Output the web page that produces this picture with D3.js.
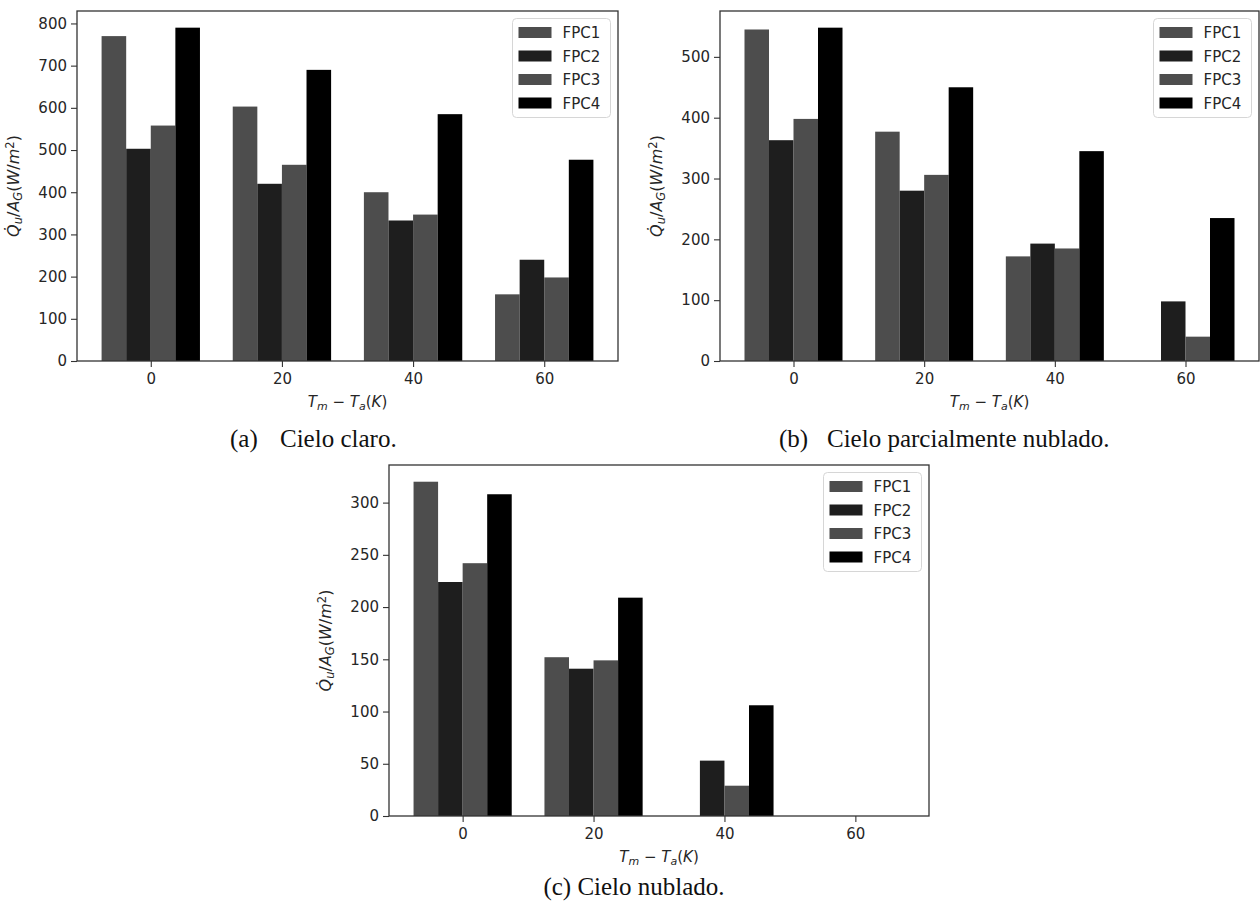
<!DOCTYPE html>
<html>
<head>
<meta charset="utf-8">
<script src="https://cdn.jsdelivr.net/npm/d3@7/dist/d3.min.js"></script>
<style>
  html, body { margin: 0; padding: 0; background: #fff; }
  svg { display: block; }
  text { font-family: "DejaVu Sans", sans-serif; fill: #262626; }
  .cap { font-family: "Liberation Serif", "Times New Roman", serif; fill: #111; }
</style>
</head>
<body>
<svg id="chart" width="1260" height="907"></svg>
<script>
// ---- data ----
const categories = [0, 20, 40, 60];
const seriesNames = ["FPC1", "FPC2", "FPC3", "FPC4"];
const seriesColors = ["#4d4d4d", "#1e1e1e", "#4d4d4d", "#000000"];

// (a) Cielo claro
const clearFPC1 = [770, 603, 400, 158];
const clearFPC2 = [503, 420, 333, 240];
const clearFPC3 = [558, 465, 347, 198];
const clearFPC4 = [790, 690, 585, 477];
// (b) Cielo parcialmente nublado
const partialFPC1 = [545, 377, 172, 0];
const partialFPC2 = [363, 280, 193, 98];
const partialFPC3 = [398, 306, 185, 40];
const partialFPC4 = [548, 450, 345, 235];
// (c) Cielo nublado
const cloudyFPC1 = [320, 152, 0, 0];
const cloudyFPC2 = [224, 141, 53, 0];
const cloudyFPC3 = [242, 149, 29, 0];
const cloudyFPC4 = [308, 209, 106, 0];

const yTicksA = [0, 100, 200, 300, 400, 500, 600, 700, 800];
const yTicksB = [0, 100, 200, 300, 400, 500];
const yTicksC = [0, 50, 100, 150, 200, 250, 300];
const xTickLabels = ["0", "20", "40", "60"];

const captionA = ["(a)", "Cielo claro."];
const captionB = ["(b)", "Cielo parcialmente nublado."];
const captionC = "(c) Cielo nublado.";

// ---- drawing ----
const svg = d3.select("#chart");
const barW = 3.75;
const FS = "15px", FSS = "11px";

function drawPanel(box, seriesData, yTicks) {
  const g = svg.append("g");
  const maxV = d3.max(seriesData.flat());
  const span = categories[3] - categories[0] + 4 * barW;
  const x = d3.scaleLinear()
    .domain([categories[0] - 2 * barW - 0.05 * span, categories[3] + 2 * barW + 0.05 * span])
    .range([box.x0, box.x1]);
  const y = d3.scaleLinear().domain([0, maxV * 1.05]).range([box.y1, box.y0]);

  // bars
  seriesData.forEach((vals, si) => {
    g.append("g").selectAll("rect")
      .data(vals.map((v, ci) => ({ v, c: categories[ci] })))
      .join("rect")
      .attr("x", d => x(d.c + (si - 2) * barW))
      .attr("width", d => x(d.c + (si - 1) * barW) - x(d.c + (si - 2) * barW))
      .attr("y", d => y(d.v))
      .attr("height", d => y(0) - y(d.v))
      .attr("fill", seriesColors[si]);
  });

  // axes
  const yAxis = d3.axisLeft(y).tickValues(yTicks).tickSize(6).tickPadding(4).tickSizeOuter(0);
  const xAxis = d3.axisBottom(x).tickValues(categories).tickFormat((d, i) => xTickLabels[i])
    .tickSize(6).tickPadding(6).tickSizeOuter(0);
  const ya = g.append("g").attr("transform", `translate(${box.x0},0)`).call(yAxis);
  const xa = g.append("g").attr("transform", `translate(0,${box.y1})`).call(xAxis);
  [ya, xa].forEach(a => {
    a.select(".domain").remove();
    a.selectAll(".tick line").attr("stroke", "#333").attr("stroke-width", 1.1);
    a.selectAll(".tick text").style("font-size", FS).attr("fill", "#262626");
  });

  // frame
  g.append("rect")
    .attr("x", box.x0).attr("y", box.y0)
    .attr("width", box.x1 - box.x0).attr("height", box.y1 - box.y0)
    .attr("fill", "none").attr("stroke", "#333").attr("stroke-width", 1.3);

  // x label: T_m − T_a(K)
  const xl = g.append("text")
    .attr("x", (box.x0 + box.x1) / 2).attr("y", box.y1 + 46)
    .attr("text-anchor", "middle").style("font-size", FS);
  xl.append("tspan").attr("font-style", "italic").text("T");
  xl.append("tspan").attr("font-style", "italic").attr("baseline-shift", "-28%").style("font-size", FSS).text("m");
  xl.append("tspan").text(" \u2212 ");
  xl.append("tspan").attr("font-style", "italic").text("T");
  xl.append("tspan").attr("font-style", "italic").attr("baseline-shift", "-28%").style("font-size", FSS).text("a");
  xl.append("tspan").text("(");
  xl.append("tspan").attr("font-style", "italic").text("K");
  xl.append("tspan").text(")");

  // y label: Q̇_u/A_G(W/m^2)
  const cy = (box.y0 + box.y1) / 2;
  const lx = box.x0 - 58;
  const yl = g.append("text")
    .attr("transform", `translate(${lx},${cy}) rotate(-90)`)
    .attr("text-anchor", "middle").style("font-size", "16px");
  yl.append("tspan").attr("font-style", "italic").text("Q\u0307");
  yl.append("tspan").attr("font-style", "italic").attr("baseline-shift", "-28%").style("font-size", "11.5px").text("u");
  yl.append("tspan").text("/");
  yl.append("tspan").attr("font-style", "italic").text("A");
  yl.append("tspan").attr("font-style", "italic").attr("baseline-shift", "-28%").style("font-size", "11.5px").text("G");
  yl.append("tspan").text("(");
  yl.append("tspan").attr("font-style", "italic").text("W");
  yl.append("tspan").text("/");
  yl.append("tspan").attr("font-style", "italic").text("m");
  yl.append("tspan").attr("baseline-shift", "40%").style("font-size", "11.5px").text("2");
  yl.append("tspan").text(")");

  // legend (upper right)
  const lw = 98, lh = 99;
  const lgx = box.x1 - 7.5 - lw, lgy = box.y0 + 7.5;
  const lg = g.append("g").attr("transform", `translate(${lgx},${lgy})`);
  lg.append("rect").attr("width", lw).attr("height", lh).attr("rx", 4)
    .attr("fill", "rgba(255,255,255,0.85)").attr("stroke", "#d6d6d6").attr("stroke-width", 1);
  seriesNames.forEach((name, i) => {
    const ey = 14 + i * 23.5;
    lg.append("rect").attr("x", 6).attr("y", ey - 5.5).attr("width", 33).attr("height", 11)
      .attr("fill", seriesColors[i]);
    lg.append("text").attr("x", 50).attr("y", ey + 5.5).style("font-size", FS).text(name);
  });
}

const boxA = { x0: 77, x1: 618, y0: 11, y1: 361 };
const boxB = { x0: 720, x1: 1259, y0: 11, y1: 361 };
const boxC = { x0: 389, x1: 929, y0: 465, y1: 816 };

drawPanel(boxA, [clearFPC1, clearFPC2, clearFPC3, clearFPC4], yTicksA);
drawPanel(boxB, [partialFPC1, partialFPC2, partialFPC3, partialFPC4], yTicksB);
drawPanel(boxC, [cloudyFPC1, cloudyFPC2, cloudyFPC3, cloudyFPC4], yTicksC);

// captions
function caption(parts, x1, x2, y) {
  svg.append("text").attr("class", "cap").attr("x", x1).attr("y", y).style("font-size", "25px").text(parts[0]);
  svg.append("text").attr("class", "cap").attr("x", x2).attr("y", y).style("font-size", "25px").text(parts[1]);
}
caption(captionA, 230, 280, 447);
caption(captionB, 779, 827, 447);
svg.append("text").attr("class", "cap").attr("x", 634).attr("y", 895)
  .attr("text-anchor", "middle").style("font-size", "25px").text(captionC);
</script>
</body>
</html>
